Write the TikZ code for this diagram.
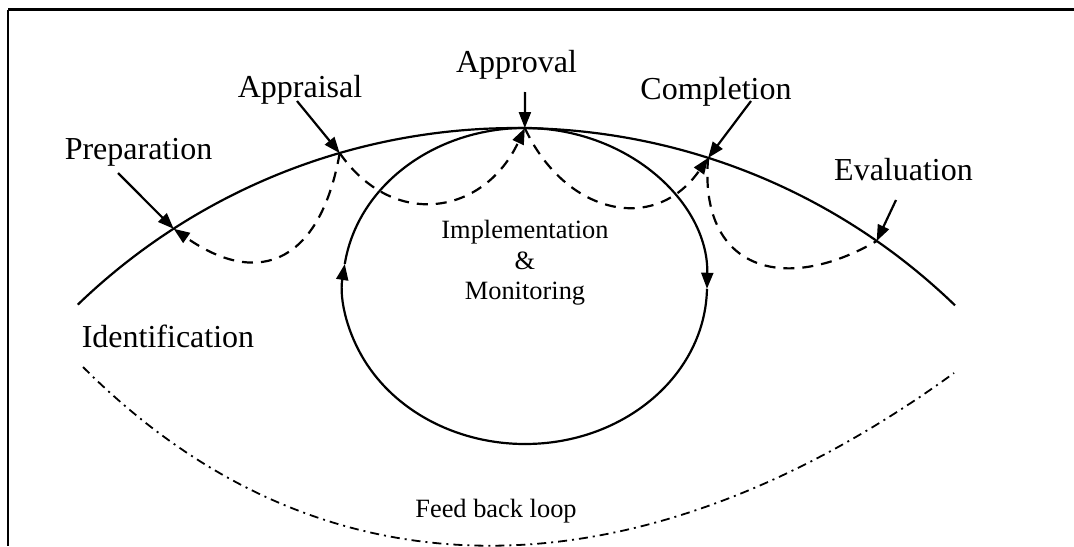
\documentclass[tikz,border=0pt]{standalone}
\usepackage{fontspec}
\setmainfont{Liberation Serif}
\usetikzlibrary{arrows.meta, graphs, positioning}

\begin{document}
\begin{tikzpicture}[x=0.5pt, y=0.5pt, line width=1.1pt,
    >={Triangle[length=8pt, width=6pt]},
    stage/.style={font=\fontsize{16}{19}\selectfont, anchor=base, inner sep=0pt},
    midtext/.style={font=\fontsize{13.2}{15.25}\selectfont, align=center},
    backflow/.style={dash pattern=on 5.5pt off 4pt},
    feedloop/.style={line width=0.9pt, dash pattern=on 4.5pt off 2.5pt on 1pt off 2.5pt}]
    \useasboundingbox (0,0) rectangle (1074,-546);
    % frame
    \draw[line width=1.6pt] (8,-9.5) -- (1074,-9.5);
    \draw (8,-9.5) -- (8,-546);

    % project cycle arc and its points
    \coordinate (arc c)  at (516,-760);
    \coordinate (loop c) at (525,-286);
    \draw (arc c) ++(133.9:632) arc[start angle=133.9, end angle=46, radius=632];
    \path (arc c) ++(122.8:632) coordinate (prep pt)
          (arc c) ++(106.2:632) coordinate (appr pt)
          (arc c) ++(89.2:632)  coordinate (appv pt)
          (arc c) ++(72.3:632)  coordinate (comp pt)
          (arc c) ++(55.2:632)  coordinate (eval pt);

    % implementation loop
    \draw[->] (loop c) ++(270:182 and 158) arc[start angle=270, end angle=172, x radius=182, y radius=158];
    \draw[->] (loop c) ++(172:182 and 158) arc[start angle=172, end angle=-1, x radius=182, y radius=158];
    \draw     (loop c) ++(-1:182 and 158)  arc[start angle=-1, end angle=-90, x radius=182, y radius=158];

    \node[stage]   (prep)  at (138.5,-159) {Preparation};
    \node[stage]   (appr)  at (300,-97)    {Appraisal};
    \node[stage]   (appv)  at (516.5,-72)  {Approval};
    \node[stage]   (comp)  at (716,-99)    {Completion};
    \node[stage]   (eval)  at (903.5,-180) {Evaluation};
    \node[stage]   (ident) at (168,-347)   {Identification};
    \node[midtext] (impl)  at (525,-263)   {Implementation\\\&\\Monitoring};
    \node[midtext, anchor=base] (loop) at (496,-517) {Feed back loop};

    \coordinate (prep tail) at (118,-173);
    \coordinate (appr tail) at (297,-101);
    \coordinate (appv tail) at (525,-92);
    \coordinate (comp tail) at (751,-101);
    \coordinate (eval tail) at (896,-200);
    \coordinate (fb start)  at (83,-367);
    \coordinate (fb end)    at (954,-373);

    \graph{
    (prep tail) -> (prep pt);
    (appr tail) -> (appr pt);
    (appv tail) -> (appv pt);
    (comp tail) -> (comp pt);
    (eval tail) -> (eval pt);
    (appr pt) ->[backflow, out=260, in=-35, looseness=1.5] (prep pt);
    (appr pt) ->[backflow, out=-55, in=245, looseness=1.3] (appv pt);
    (appv pt) ->[backflow, out=-65, in=235, looseness=1.3] (comp pt);
    (comp pt) --[backflow, out=265, in=210, looseness=1.5] (eval pt);
    (fb start) --[feedloop, out=-45, in=216, looseness=1.06] (fb end);
    };
\end{tikzpicture}
\end{document}
